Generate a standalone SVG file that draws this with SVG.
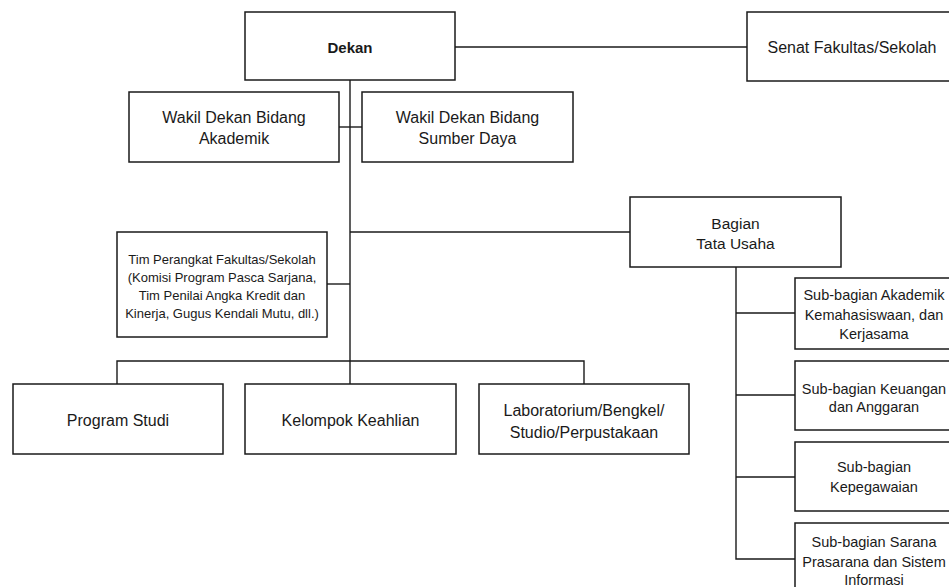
<svg xmlns="http://www.w3.org/2000/svg" width="949" height="587" viewBox="0 0 949 587">
<style>
.box{fill:#fff;stroke:#1a1a1a;stroke-width:1.5}
.ln{fill:none;stroke:#1a1a1a;stroke-width:1.4}
text{font-family:"Liberation Sans",Arial,sans-serif;fill:#1a1a1a;text-anchor:middle;dominant-baseline:central}
.t16{font-size:16px}
.t15{font-size:15.5px}
.t14{font-size:14.5px}
.t13{font-size:13px}
.b{font-weight:bold;font-size:15px}
</style>
<rect width="949" height="587" fill="#fff"/>
<g id="connectors">
<path class="ln" d="M455 47H747"/>
<path class="ln" d="M350 80V384"/>
<path class="ln" d="M339 127H362"/>
<path class="ln" d="M327 284H350"/>
<path class="ln" d="M350 232H630"/>
<path class="ln" d="M117 384V361H584V384"/>
<path class="ln" d="M736 267V559H795"/>
<path class="ln" d="M736 313H795M736 395H795M736 477H795"/>
</g>
<g id="dekan"><rect class="box" x="245" y="12" width="210" height="68"/><text class="b" x="350" y="47">Dekan</text></g>
<g id="senat"><rect class="box" x="747" y="12" width="212" height="69"/><text class="t16" x="852" y="47">Senat Fakultas/Sekolah</text></g>
<g id="wd-akademik"><rect class="box" x="129" y="92" width="210" height="70"/><text class="t16" x="234" y="117">Wakil Dekan Bidang</text><text class="t16" x="234" y="138">Akademik</text></g>
<g id="wd-sumberdaya"><rect class="box" x="362" y="92" width="211" height="70"/><text class="t16" x="467.5" y="117">Wakil Dekan Bidang</text><text class="t16" x="467.5" y="138">Sumber Daya</text></g>
<g id="tim"><rect class="box" x="117" y="232" width="210" height="105"/>
<text class="t13" x="222" y="259">Tim Perangkat Fakultas/Sekolah</text>
<text class="t13" x="222" y="277">(Komisi Program Pasca Sarjana,</text>
<text class="t13" x="222" y="295">Tim Penilai Angka Kredit dan</text>
<text class="t13" x="222" y="313">Kinerja, Gugus Kendali Mutu, dll.)</text></g>
<g id="bagian"><rect class="box" x="630" y="197" width="211" height="70"/><text class="t15" x="735.5" y="223">Bagian</text><text class="t15" x="735.5" y="243">Tata Usaha</text></g>
<g id="prodi"><rect class="box" x="13" y="384" width="210" height="70"/><text class="t16" x="118" y="420">Program Studi</text></g>
<g id="kk"><rect class="box" x="245" y="384" width="211" height="70"/><text class="t16" x="350.5" y="420">Kelompok Keahlian</text></g>
<g id="lab"><rect class="box" x="479" y="384" width="210" height="70"/><text class="t16" x="584" y="410">Laboratorium/Bengkel/</text><text class="t16" x="584" y="432">Studio/Perpustakaan</text></g>
<g id="sub-akademik"><rect class="box" x="795" y="278" width="158" height="71"/>
<text class="t14" x="874" y="295">Sub-bagian Akademik</text><text class="t14" x="874" y="315">Kemahasiswaan, dan</text><text class="t14" x="874" y="334">Kerjasama</text></g>
<g id="sub-keuangan"><rect class="box" x="795" y="361" width="158" height="69"/>
<text class="t14" x="874" y="389">Sub-bagian Keuangan</text><text class="t14" x="874" y="407">dan Anggaran</text></g>
<g id="sub-kepegawaian"><rect class="box" x="795" y="442" width="158" height="69"/>
<text class="t14" x="874" y="467">Sub-bagian</text><text class="t14" x="874" y="487">Kepegawaian</text></g>
<g id="sub-sarana"><rect class="box" x="795" y="523" width="158" height="70"/>
<text class="t14" x="874" y="542">Sub-bagian Sarana</text><text class="t14" x="874" y="562">Prasarana dan Sistem</text><text class="t14" x="874" y="580">Informasi</text></g>
</svg>
